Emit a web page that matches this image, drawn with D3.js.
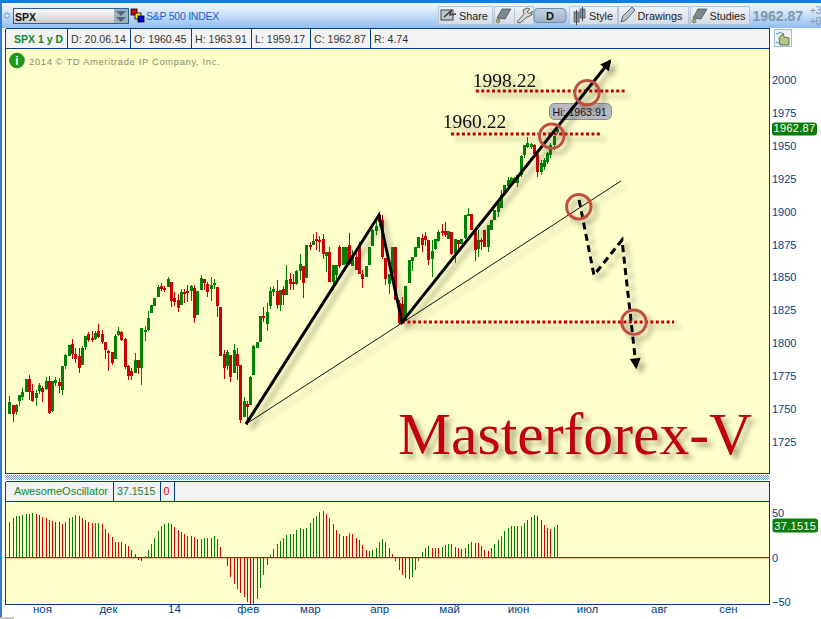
<!DOCTYPE html>
<html><head><meta charset="utf-8">
<script src="https://cdn.jsdelivr.net/npm/d3@7"></script>
<style>html,body{margin:0;padding:0;background:#fff;overflow:hidden}svg{display:block}text{font-family:"Liberation Sans",Arial,sans-serif}</style>
</head><body><div id="c"></div>
<script>
const open_=[1746.2,1753,1747.7,1756,1758.9,1762.9,1772.8,1763.6,1758.3,1763.6,1765.9,1765.2,1771.2,1748.5,1769.7,1770.5,1764.4,1782.6,1790.2,1799.4,1791.8,1790.2,1783.4,1797.1,1807,1803.9,1803.2,1809.2,1807,1800.9,1794,1793.3,1788,1806.2,1808.5,1803.2,1782.6,1778.9,1777.3,1787.2,1781.1,1808.5,1810,1822.9,1828.2,1835.1,1843.4,1841.9,1842.7,1846.5,1834.3,1832.8,1829,1838.9,1839.6,1839.6,1841.9,1821.4,1840.4,1848.8,1845,1841.2,1844.2,1842.7,1827.5,1791.8,1782.6,1791,1777.3,1791.8,1783.4,1743.9,1753.8,1753,1775.8,1796.3,1800.9,1820.6,1814.6,1828.2,1838.9,1839.6,1829,1841.2,1836.6,1848.8,1846.5,1845,1854.8,1858.6,1849.5,1874.6,1874.6,1879.2,1878.4,1879.2,1866.2,1869.3,1846.5,1851.8,1873.1,1859.4,1860.2,1874.6,1858.6,1865.7,1874.6,1852.6,1850.3,1859.4,1873.8,1885.2,1897.4,1893.6,1864.7,1845,1852.6,1873.1,1830.5,1830.2,1816.9,1845.7,1862.4,1865.5,1872.3,1879.9,1881.4,1878.4,1864,1871.6,1877.6,1885.2,1885.2,1879.2,1884.5,1868.5,1878.4,1875.4,1879.9,1896.6,1898.2,1886,1871.6,1878.4,1886,1873.1,1886,1893.6,1900,1902.5,1912.6,1919.4,1921,1921.5,1922,1927.8,1943,1949.3,1948.8,1950.6,1943.8,1930.3,1934.1,1938,1943,1950.6,1960.45];
const high_=[1759.8,1753,1753.8,1760.6,1765.9,1772.8,1775.8,1769,1764.4,1769.7,1767.4,1774.3,1775,1771.2,1774.3,1773.5,1782.6,1791.8,1798.6,1803.2,1796.3,1796.3,1797.8,1805.4,1808.5,1809.2,1809.2,1814.6,1810,1800.9,1794.8,1793.3,1807,1812.3,1809.2,1803.9,1783.4,1781.1,1792.5,1787.2,1811.5,1813,1824.4,1829,1834.3,1844.2,1845.7,1843.4,1850.3,1846.5,1838.9,1837.4,1841.2,1841.2,1844.2,1844.2,1844.2,1839.6,1851.8,1848.8,1846.5,1850.3,1848.8,1842.7,1827.5,1794.8,1794.8,1791,1799.4,1796.3,1783.4,1759.1,1756,1775,1798.6,1800.9,1820.6,1827.5,1830.5,1842.7,1843.4,1848,1840.4,1843.4,1859.4,1853.3,1852.6,1855.6,1867.8,1858.6,1874.6,1876.9,1883,1884.5,1881.4,1883,1869.3,1873.1,1859.4,1859.4,1874.6,1873.1,1873.1,1883.7,1870.8,1868.5,1876.9,1855.6,1858.6,1873.1,1886.8,1893.6,1898.2,1897.4,1864.7,1852.6,1873.1,1873.1,1832.8,1835,1843.4,1863.2,1865.5,1873.1,1880.7,1883,1884.5,1878.4,1878.4,1879.2,1886,1890.6,1892.1,1885.2,1884.5,1879.2,1878.4,1879.2,1897.4,1902.7,1898.2,1886,1886,1880,1886,1889.8,1893.6,1901.2,1908.8,1916.4,1920.2,1926.5,1926.5,1926.5,1927.8,1943,1950.6,1956.4,1952.5,1951.5,1945.5,1939,1941,1945.5,1952,1957.4,1963.91];
const low_=[1746.2,1740.1,1745.4,1752.3,1756.8,1762.9,1756.8,1755.3,1752.3,1761.4,1755.3,1764.4,1746.2,1747.7,1767.4,1762.1,1760.6,1780.4,1790.2,1788,1784.9,1777.3,1783.4,1794.8,1800.9,1800.9,1802.4,1803.9,1799.4,1788,1778.9,1783.4,1788,1805.4,1801.6,1780.4,1772,1772,1777.3,1776.6,1768.2,1801.6,1809.2,1822.9,1828.2,1835.1,1839.6,1838.9,1842.7,1827.5,1828.2,1823.7,1829,1830.5,1831.3,1832,1815.3,1821.4,1840.4,1840.4,1835.1,1832,1841.2,1819.9,1790.2,1772.8,1779.6,1770.5,1777.3,1772,1739.3,1743.9,1737.8,1753,1775.8,1796.3,1800.9,1816.1,1809.3,1826,1835.8,1826,1824.5,1829,1836.6,1840.4,1840.4,1844.2,1848,1834.3,1849.5,1870.8,1874.6,1870.8,1869.3,1864,1854.1,1846.5,1840.4,1844.2,1857.1,1859.4,1860.2,1859.4,1858.6,1855.6,1852.6,1841.9,1850.3,1859.4,1873.8,1882.2,1889,1864,1844.2,1837.4,1852.6,1832.8,1814.6,1815,1816.9,1845.7,1854.8,1865.5,1872.3,1869.3,1873.8,1859.4,1850.3,1870.8,1876.9,1881.4,1880.7,1879.2,1867,1860.9,1870.8,1875.4,1879.2,1896.6,1886,1862.4,1865.5,1871,1873.1,1869.3,1886,1893.6,1896.2,1902.5,1912.6,1917.7,1920.2,1921.5,1918.9,1926.5,1940.5,1948,1947.5,1943.8,1926.5,1928,1932,1936,1941,1946.8,1959.17];
const close_=[1755.3,1746.2,1753,1760.6,1762.9,1772.8,1762.9,1756,1762.1,1768.2,1762.9,1771.2,1746.9,1771.2,1772,1767.4,1782.6,1791,1798.6,1791.8,1788,1781.1,1796.3,1805.4,1802.4,1802.4,1807.7,1804.7,1800.9,1794.8,1792.5,1784.9,1805.4,1809.2,1802.4,1781.9,1775,1775,1787.2,1781.1,1811.5,1810,1819.1,1829,1834.3,1842.7,1841.2,1840.4,1848.8,1832,1831.3,1826.7,1838.9,1837.4,1838.1,1843.4,1819.1,1839.6,1849.5,1845.7,1838.9,1844.2,1845.7,1828.2,1790.2,1781.1,1793.3,1774.3,1794.8,1782.6,1741.6,1756,1751.5,1774.3,1797.8,1800.9,1820.6,1819.1,1823.7,1839.6,1841.2,1829,1840.4,1836.6,1848,1845,1845,1854.8,1860.2,1845.7,1874.6,1873.1,1877.6,1877.6,1877.6,1867.8,1869.3,1846.5,1859.4,1859.4,1858.6,1873.1,1873.1,1860.2,1867,1855.6,1852.6,1848.8,1858.6,1873.1,1886,1889,1892.1,1865.5,1848.8,1852.6,1873.1,1832.8,1815.3,1817.6,1843.4,1863.2,1865.5,1873.1,1880.7,1874.6,1878.4,1863.2,1870,1879.2,1884.5,1883.7,1882.2,1885.2,1867.8,1879.2,1875.4,1879.2,1897.4,1898.2,1886,1870.8,1878.4,1877.6,1873.1,1889.8,1893.6,1901.2,1906.3,1912.6,1920.2,1924,1925.3,1925.8,1927.8,1942.2,1950.6,1951.9,1951.4,1943.8,1930.3,1936.7,1939.2,1944.3,1950.6,1957.4,1962.87];

const aoValues=[39.7,44.2,46.4,46.8,47.6,48.7,49.4,50.2,48.7,47.6,45.7,44.6,42.7,41.2,40.4,39.7,38.2,40.1,44.2,45.3,47.6,46.4,44.2,41.9,40.1,38.9,38.6,38.6,37.5,31.8,27.7,23.2,17.2,17.2,17.2,15.7,13.1,9,4.5,-2.2,-3.7,1.5,8.2,15,21.7,30,35.2,38.2,38.9,37.5,34.5,31.5,28.5,26.2,24,24,23.2,21.3,21.3,22.1,22.1,22.1,24,20.6,12,0.7,-9.7,-21.7,-30,-35.6,-40.4,-44.2,-49.8,-52.4,-52.4,-46.4,-34.5,-19.8,-8.6,2.6,10.1,15.7,18.4,22.5,25.1,26.6,27,30.7,
33,32.2,33.7,38.9,44.6,46.4,51.3,52.1,48.7,44.2,37.5,30.7,27,24.7,24,27.3,26.2,21.7,19.5,13.9,8.2,7.1,8.2,11.2,17.2,20.6,17.6,10.5,3.7,-3.7,-14.2,-19.8,-22.5,-24.3,-22.1,-14.2,-3.7,6,10.5,12.7,11.2,10.5,10.5,11.6,14.2,15,15,12.4,11.2,9.4,10.5,15,18,16.1,16.1,13.5,9,7.1,10.5,15,19.5,24,29.6,33,35.2,35.2,35.2,35.2,38.6,41.9,45.3,47.6,46.4,41.9,36.3,33,31.8,34.1,37.15];
const aoRising=[1,1,1,1,1,1,1,1, 0,0,0,0,0,0,0,0,0, 1,1,1,1, 0,0,0,0,0, 1,1, 0,0,0,0,0,0,0,0,0,0,0,0,0, 1,1,1,1,1,1,1,1, 0,0,0,0,0,0,0,0,0, 1,1,1, 0, 1, 0,0,0,0,0,0,0,0,0,0,0, 1,1,1,1,1,1,1,1,1,1,1,1,1,1,
1,1,1,1,1,1,1,1, 0,0,0,0,0,0,0, 1, 0,0,0,0,0,0, 1,1,1,1, 0,0,0,0,0,0,0,0, 1,1,1,1,1,1, 0,0,0, 1,1,1, 0,0,0,0, 1,1,1, 0,0,0,0,0, 1,1,1,1,1,1,1,1, 0, 1,1,1,1,1, 0,0,0,0,0, 1,1];

const priceTicks=[2000,1975,1950,1925,1900,1875,1850,1825,1800,1775,1750,1725];
const aoTicks=[50,0,-50];
const monthPositions=[10.9,30.9,50.9,73.3,92.1,113.1,134.3,155.2,176.1,197.9,218.8];
const monthLabels=["ноя","дек","14","фев","мар","апр","май","июн","июл","авг","сен"];
const headerCells=["D: 20.06.14","O: 1960.45","H: 1963.91","L: 1959.17","C: 1962.87","R: 4.74"];

// hand drawings, in bar index / price space
const trendPath=[[72.74,1738.6],[113.05,1897.4],[120.02,1816.1],[183.06,2014.4]];
const supportLine=[[72.74,1738.6],[186.4,1923.3]];
const forecastPath=[[173.7,1908.8],[178.2,1851.8],[186.7,1878.4],[191,1781.9]];
const levelLines=[[120.02,202.5,1816.1],[134.9,180.6,1959],[142.4,188.2,1991.6]];
const rings=[[176.1,1990.3],[165.4,1957.4],[173.6,1903.7],[190.3,1816.1]];
const levelNotes=[["1998.22",141.5,1994.9],["1960.22",132.4,1963.5]];

const W=821,H=619, navy="#003f87";
const x=d3.scaleLinear().domain([1,167]).range([9.3,557]);
const y=d3.scaleLinear().domain([2000,1725]).range([80,442]);
const ya=d3.scaleLinear().domain([50,-50]).range([513.2,602]);
const bar=i=>Math.round(x(i+1))+0.5;

const svg=d3.select("#c").append("svg").attr("width",W).attr("height",H);
const defs=svg.append("defs");
const grad=(id,stops)=>{const g=defs.append("linearGradient").attr("id",id).attr("x1",0).attr("y1",0).attr("x2",0).attr("y2",1);
  stops.forEach(([o,c])=>g.append("stop").attr("offset",o).attr("stop-color",c));};
grad("bar",[[0,"#f4f9ff"],[0.35,"#d6e6fa"],[1,"#8fbdef"]]);
grad("btn",[[0,"#f2f4f7"],[1,"#d4dbe4"]]);
grad("combo",[[0,"#ffffff"],[1,"#c8c8c8"]]);
grad("dbtn",[[0,"#c6d4e2"],[1,"#9db2c8"]]);
const shadow=(id,dx,dy,sd,op)=>{defs.append("filter").attr("id",id).attr("filterUnits","userSpaceOnUse").attr("x",0).attr("y",0).attr("width",W).attr("height",H)
  .append("feDropShadow").attr("dx",dx).attr("dy",dy).attr("stdDeviation",sd).attr("flood-color","#3c3c28").attr("flood-opacity",op);};
shadow("sh",5,5,2.4,0.42); shadow("shT",5,5,2.4,0.42);
const mk=(id,w,h)=>{defs.append("marker").attr("id",id).attr("markerUnits","userSpaceOnUse").attr("viewBox","0 0 10 10").attr("refX",8).attr("refY",5)
  .attr("markerWidth",w).attr("markerHeight",h).attr("orient","auto").append("path").attr("d","M0,0L10,5L0,10Z").attr("fill","#000");};
mk("head",12,11);
const pat=defs.append("pattern").attr("id","hatch").attr("width",2).attr("height",2).attr("patternUnits","userSpaceOnUse");
pat.append("rect").attr("width",2).attr("height",2).attr("fill","#fff");
pat.append("rect").attr("width",1).attr("height",1).attr("fill","#6f8fb0");
pat.append("rect").attr("x",1).attr("y",1).attr("width",1).attr("height",1).attr("fill","#6f8fb0");

// frame & toolbar
svg.append("rect").attr("width",W).attr("height",H).attr("fill","#fff");
svg.append("rect").attr("x",2).attr("y",3).attr("width",W-2).attr("height",25).attr("fill","url(#bar)");
svg.append("rect").attr("width",W).attr("height",3).attr("fill","#0a7df2");
svg.append("rect").attr("width",2).attr("height",H).attr("fill","#2f7fd8");
svg.append("circle").attr("cx",7).attr("cy",15.5).attr("r",2.5).attr("fill","#cfe3f8").attr("stroke","#6a9cd0");
svg.append("rect").attr("x",13.5).attr("y",8.5).attr("width",115).attr("height",15).attr("fill","url(#combo)").attr("stroke","#2f5f95");
svg.append("text").attr("x",15).attr("y",20.5).attr("font-size",10.5).attr("font-weight",700).attr("fill","#101010").text("SPX");
svg.append("rect").attr("x",114).attr("y",9).attr("width",14).attr("height",14).attr("fill","#9fb0c0");
[[116,11,126,11,121,16],[116,17,126,17,121,22]].forEach(t=>svg.append("path").attr("d",`M${t[0]},${t[1]}L${t[2]},${t[3]}L${t[4]},${t[5]}Z`).attr("fill","#50647c"));
[[131,9,"#e00000"],[135,13,"#ffe000"],[138,16,"#0000d0"]].forEach(s=>svg.append("rect").attr("x",s[0]).attr("y",s[1]).attr("width",6).attr("height",6).attr("fill",s[2]).attr("stroke","#000").attr("stroke-width",0.8));
svg.append("text").attr("x",146).attr("y",20).attr("font-size",10.5).attr("letter-spacing",-.25).attr("fill","#1a62d6").text("S&P 500 INDEX");

const buttons=[[438,54,"Share",459],[494,20,"",0],[514,19,"",0],[569,48,"Style",589],[618,70,"Drawings",637.5],[690,59,"Studies",709.5]];
buttons.forEach(b=>{
  svg.append("rect").attr("x",b[0]+.5).attr("y",6.5).attr("width",b[1]).attr("height",18).attr("fill","url(#btn)").attr("stroke","#b8c6d6");
  if(b[2]) svg.append("text").attr("x",b[3]).attr("y",19.5).attr("font-size",10.8).attr("fill","#222").text(b[2]);
});
svg.append("rect").attr("x",534).attr("y",8.5).attr("width",32).attr("height",14).attr("rx",4).attr("fill","url(#dbtn)").attr("stroke","#708aa4");
svg.append("text").attr("x",550).attr("y",20).attr("text-anchor","middle").attr("font-size",11).attr("font-weight",700).attr("fill","#111").text("D");
// toolbar icons
svg.append("rect").attr("x",441).attr("y",10).attr("width",12).attr("height",10).attr("fill","#bcc6cf").attr("stroke","#444");
svg.append("path").attr("d","M444,17L451,11L450,15L456,14").attr("fill","none").attr("stroke","#333").attr("stroke-width",1.4);
[[497,"#7b8a90"],[693,"#7b8a90"]].forEach(b=>{svg.append("path").attr("d",`M${b[0]},18L${b[0]+5},9L${b[0]+14},9L${b[0]+8},19Z`).attr("fill",b[1]).attr("stroke","#444").attr("stroke-width",.7);
  svg.append("circle").attr("cx",b[0]+1).attr("cy",21).attr("r",2).attr("fill","#a9b060").attr("stroke","#444").attr("stroke-width",.5);});
svg.append("path").attr("d","M517,22L524,14L523,10L527,8L530,9L527,12L530,14L532,11L532,15L527,17L520,23Z").attr("fill","#d8d8d0").attr("stroke","#444").attr("stroke-width",.8);
[[574,12,18],[580,9,14]].forEach(c=>{svg.append("rect").attr("x",c[0]).attr("y",c[1]).attr("width",5).attr("height",c[2]-c[1]+4).attr("fill","#8a9aa0").attr("stroke","#445").attr("stroke-width",.7);
  svg.append("line").attr("x1",c[0]+2.5).attr("x2",c[0]+2.5).attr("y1",c[1]-2).attr("y2",c[2]+7).attr("stroke","#445");});
svg.append("path").attr("d","M621,22L623,16L632,7L635,10L626,20Z").attr("fill","#b8c4d0").attr("stroke","#445").attr("stroke-width",.8);
svg.append("text").attr("x",752.5).attr("y",20.5).attr("font-size",14).attr("font-weight",700).attr("fill","#7f96ae").text("1962.87");
svg.append("text").attr("x",810).attr("y",14).attr("font-size",10).attr("fill","#7f96ae").text("+3");
svg.append("text").attr("x",810).attr("y",25).attr("font-size",10).attr("fill","#7f96ae").text("+0");

// panels
const PL=5.5,PR=769.5;
svg.append("rect").attr("x",PL).attr("y",28.5).attr("width",PR-PL).attr("height",20).attr("fill","#f3f3f3");
svg.append("rect").attr("x",PL).attr("y",48.5).attr("width",PR-PL).attr("height",425).attr("fill","#ffffcc");
svg.append("rect").attr("x",PL).attr("y",475).attr("width",PR-PL).attr("height",5).attr("fill","url(#hatch)");
svg.append("rect").attr("x",PL).attr("y",481.5).attr("width",PR-PL).attr("height",20).attr("fill","#f3f3f3");
svg.append("rect").attr("x",PL).attr("y",501.5).attr("width",PR-PL).attr("height",103).attr("fill","#ffffcc");

// candles
const candles=svg.append("g").attr("shape-rendering","crispEdges");
const up=i=>close_[i]>=open_[i];
const col=i=>up(i)?"#008000":"#cc0000";
candles.selectAll("line").data(d3.range(close_.length)).join("line")
  .attr("x1",bar).attr("x2",bar).attr("y1",i=>y(high_[i])).attr("y2",i=>y(low_[i])).attr("stroke",col);
candles.selectAll("rect").data(d3.range(close_.length)).join("rect")
  .attr("x",i=>bar(i)-1.5).attr("width",3)
  .attr("y",i=>y(Math.max(open_[i],close_[i])))
  .attr("height",i=>Math.max(1.5,Math.abs(y(open_[i])-y(close_[i])))).attr("fill",col);

// frame lines over the fills
const frame=svg.append("g").attr("shape-rendering","crispEdges").attr("stroke",navy).attr("fill","none");
[[PL,28.5,PR,28.5],[PL,48.5,PR,48.5],[PL,473.5,PR,473.5],[PL,481.5,PR,481.5],[PL,501.5,PR,501.5],[PL,604.5,PR,604.5],[PL,28.5,PL,473.5],[PL,481.5,PL,604.5],[PR,28.5,PR,473.5],[PR,481.5,PR,604.5]]
 .forEach(l=>frame.append("line").attr("x1",l[0]).attr("y1",l[1]).attr("x2",l[2]).attr("y2",l[3]));
[67.5,130.5,191.5,251.5,310.5,370.5].forEach(v=>frame.append("line").attr("x1",v).attr("x2",v).attr("y1",28.5).attr("y2",48.5));
[113.5,160.5,174.5].forEach(v=>frame.append("line").attr("x1",v).attr("x2",v).attr("y1",481.5).attr("y2",501.5));

svg.append("text").attr("x",14).attr("y",42.5).attr("font-size",10.5).attr("font-weight",700).attr("fill","#0a8a2a").text("SPX 1 y D");
const cellX=[71,134,195,255,314,374];
headerCells.forEach((t,i)=>svg.append("text").attr("x",cellX[i]).attr("y",42.5).attr("font-size",10.6).attr("fill","#333").text(t));
svg.append("text").attr("x",14).attr("y",495).attr("font-size",11).attr("fill","#0a8a2a").text("AwesomeOscillator");
svg.append("text").attr("x",117).attr("y",495).attr("font-size",10.6).attr("fill","#0a8a2a").text("37.1515");
svg.append("text").attr("x",163.5).attr("y",495).attr("font-size",10.6).attr("fill","#e00000").text("0");

// info note
svg.append("circle").attr("cx",17).attr("cy",60.5).attr("r",7.5).attr("fill","#1d9a1d").attr("stroke","#0c6a0c").attr("stroke-width",.5);
svg.append("text").attr("x",17).attr("y",65).attr("text-anchor","middle").attr("font-size",12).attr("font-weight",700).attr("fill","#fff").text("i");
svg.append("text").attr("x",29).attr("y",65).attr("font-size",9.5).attr("fill","#8a8a70").attr("letter-spacing",.6).text("2014 © TD Ameritrade IP Company, Inc.");

// axes
const axisStyle=g=>{g.select(".domain").remove();g.selectAll("line").remove();
  g.selectAll("text").attr("fill",navy).attr("font-size",11).attr("font-family",'"Liberation Sans",Arial,sans-serif');};
svg.append("g").attr("transform","translate(769,0)").call(d3.axisRight(y).tickValues(priceTicks).tickSize(0).tickPadding(3).tickFormat(d3.format("d"))).call(axisStyle);
svg.append("g").attr("transform","translate(769,0)").call(d3.axisRight(ya).tickValues(aoTicks).tickSize(0).tickPadding(3).tickFormat(d3.format("d"))).call(axisStyle);
const xAxis=d3.axisBottom(x).tickValues(monthPositions).tickSize(0).tickPadding(0).tickFormat((d,i)=>monthLabels[i]);
svg.append("g").attr("transform","translate(0,605)").call(xAxis).call(axisStyle).selectAll("text").attr("font-size",11.5);

// awesome oscillator
const ao=svg.append("g").attr("shape-rendering","crispEdges");
ao.selectAll("line").data(aoValues).join("line")
  .attr("x1",(d,i)=>bar(i)).attr("x2",(d,i)=>bar(i)).attr("y1",ya(0)).attr("y2",d=>ya(d))
  .attr("stroke",(d,i)=>aoRising[i]?"#008000":"#dd0000");
svg.append("line").attr("x1",PL).attr("x2",PR).attr("y1",ya(0)).attr("y2",ya(0)).attr("stroke","#dd0000").attr("stroke-width",1.3);

// value tags
const tag=(xx,yy,w,h,t,fs)=>{svg.append("rect").attr("x",xx).attr("y",yy).attr("width",w).attr("height",h).attr("rx",3).attr("fill","#0a7d0a");
  svg.append("text").attr("x",xx+w/2).attr("y",yy+h-3).attr("text-anchor","middle").attr("font-size",fs).attr("fill","#fff").attr("letter-spacing",.3).text(t);};
tag(772,y(close_[166])-6.5,45,13,"1962.87",11);
tag(772.5,ya(aoValues[166])-6,45.5,14,"37.1515",11);

// scroll hand
svg.append("rect").attr("x",774.5).attr("y",29.5).attr("width",17).attr("height",17).attr("fill","#eef2f6").attr("stroke","#a8bcd0");
svg.append("path").attr("d","M780,45L779,38L783,33L784,37L789,38L789,45Z").attr("fill","#b5c48a").attr("stroke","#4a5a30").attr("stroke-width",.8);
svg.append("path").attr("d","M776,34L782,32M776,42L781,44").attr("stroke","#5a8ac0").attr("stroke-width",1).attr("fill","none");

// Hi tag
svg.append("rect").attr("x",549.5).attr("y",103.5).attr("width",62).attr("height",16).attr("rx",5).attr("fill","#b9b9c0").attr("stroke","#8c8c94");
svg.append("text").attr("x",552.5).attr("y",115.5).attr("font-size",10.6).attr("fill","#111").text("Hi: 1963.91");

// hand-drawn overlay
const ink=svg.append("g").attr("filter","url(#sh)");
const link=d3.line().x(d=>x(d[0])).y(d=>y(d[1]));
ink.append("path").attr("d",link(supportLine)).attr("fill","none").attr("stroke","#111").attr("stroke-width",1);
levelLines.forEach(l=>ink.append("line").attr("x1",x(l[0])).attr("x2",x(l[1])).attr("y1",y(l[2])).attr("y2",y(l[2])).attr("stroke","#c00000").attr("stroke-width",3).attr("stroke-dasharray","3,2.4"));
ink.append("path").attr("d",link(trendPath)).attr("fill","none").attr("stroke","#000").attr("stroke-width",3).attr("stroke-linejoin","miter").attr("marker-end","url(#head)");
ink.append("path").attr("d",link(forecastPath)).attr("fill","none").attr("stroke","#000").attr("stroke-width",3).attr("stroke-dasharray","7,4.5").attr("marker-end","url(#head)");
rings.forEach(r=>ink.append("circle").attr("cx",x(r[0])).attr("cy",y(r[1])).attr("r",12.2).attr("fill","none").attr("stroke","#c05040").attr("stroke-width",3));

levelNotes.forEach(n=>svg.append("text").attr("x",x(n[1])).attr("y",y(n[2])).attr("font-size",19.5).attr("filter","url(#shT)").attr("fill","#111").style("font-family",'"Liberation Serif",serif').text(n[0]));
svg.append("text").attr("x",398).attr("y",453.5).attr("font-size",59.6).attr("fill","#c00008").attr("filter","url(#shT)").style("font-family",'"Liberation Serif",serif').text("Masterforex-V");

svg.append("rect").attr("x",0).attr("y",617).attr("width",14).attr("height",2).attr("fill","#c8c8c8");
</script></body></html>
